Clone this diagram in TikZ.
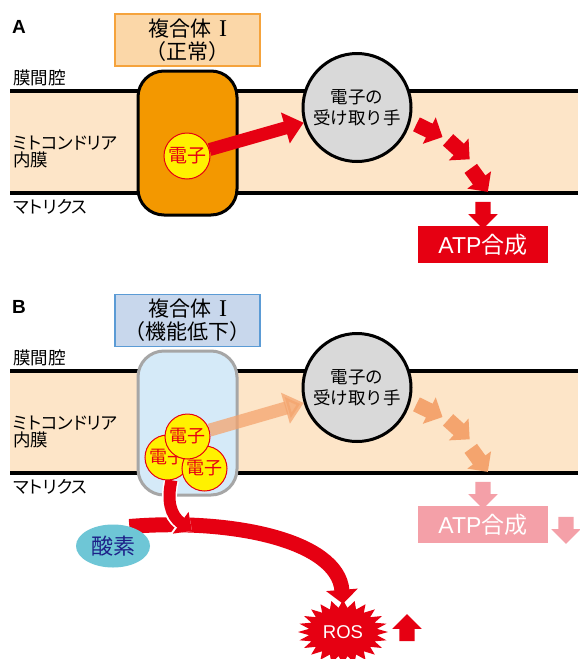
\documentclass[tikz,border=0pt]{standalone}
\usepackage{fontspec}
\setmainfont{Noto Sans CJK JP}
\newfontfamily\jpp[RawFeature=+palt]{Noto Sans CJK JP}
\newfontfamily\arial{Liberation Sans}
\newfontfamily\romannum{Liberation Serif}
\usetikzlibrary{shapes.geometric,shapes.arrows,arrows.meta,positioning}
\definecolor{memfill}{HTML}{FDE5C8}
\definecolor{cxred}{HTML}{E60012}
\definecolor{cxorange}{HTML}{F39800}
\definecolor{titleA}{HTML}{FBD7A8}
\definecolor{titleAline}{HTML}{F5A33C}
\definecolor{titleB}{HTML}{C8D7EC}
\definecolor{titleBline}{HTML}{5B9BD5}
\definecolor{cxblue}{HTML}{D5EAF8}
\definecolor{cxgrey}{HTML}{A6A6A6}
\definecolor{eyellow}{HTML}{FFF100}
\definecolor{accgrey}{HTML}{D9D9D9}
\definecolor{lightorange}{HTML}{F4A46E}
\definecolor{atppink}{HTML}{F4A0A8}
\definecolor{oxcyan}{HTML}{6EC6D6}
\definecolor{oxtext}{HTML}{1D2088}
\pgfdeclarelayer{front}
\pgfsetlayers{main,front}

\begin{document}
\begin{tikzpicture}[x=1pt,y=-1pt,
    panel/.style={font=\arial\bfseries\fontsize{19}{19}\selectfont, inner sep=0pt},
    sidelabel/.style={anchor=west, inner sep=0pt, align=left, font=\fontsize{17.5}{17}\selectfont},
    titlebox/.style={draw=#1line, fill=#1, line width=1.2pt, minimum width=145pt, minimum height=52pt,
        align=center, inner sep=0pt, font=\fontsize{21}{23}\selectfont},
    complexbox/.style={rounded corners=26pt, line width=3pt, minimum width=99pt, minimum height=144pt},
    electron/.style={circle, draw=cxred, fill=eyellow, line width=1pt, minimum size=45pt, inner sep=0pt,
        text=cxred, font=\fontsize{18}{18}\selectfont},
    acceptor/.style={circle, draw=black, fill=accgrey, line width=3pt, minimum size=108pt, align=center,
        inner sep=0pt, font=\fontsize{17.5}{21}\selectfont},
    flowline/.style={draw=#1, line width=13pt, -{Triangle[length=19pt,width=31pt]}},
    blockarrow/.style={single arrow, fill=#1, draw=none, inner xsep=0pt, inner ysep=7.5pt,
        single arrow head extend=7pt, minimum height=29pt},
    atpbox/.style={fill=#1, minimum width=130pt, minimum height=37pt, inner sep=0pt, text=white,
        font=\fontsize{23}{23}\selectfont}]
    \useasboundingbox (0,0) rectangle (580,659);
    \fill[white] (0,0) rectangle (580,659);

    % both panels: membrane, labels, acceptor, flow arrows, ATP
    \foreach \p/\dy/\flow/\atp in {A/0/cxred/cxred, B/280/lightorange/atppink} {
        \fill[memfill] (10,{91+\dy}) rectangle (578,{193+\dy});
        \draw[line width=3.5pt] (10,{91+\dy}) -- (578,{91+\dy});
        \draw[line width=3.5pt] (10,{193+\dy}) -- (578,{193+\dy});
        \node[panel] (lab\p) at (19,{27+\dy}) {\p};
        \node[sidelabel] (ims\p) at (13,{77.5+\dy}) {膜間腔};
        \node[sidelabel] (inner\p) at (13,{152+\dy}) {{\jpp ミトコンドリア}\\内膜};
        \node[sidelabel, font=\jpp\fontsize{17.5}{17}\selectfont] (mat\p) at (13,{206.5+\dy}) {マトリクス};
        \node[acceptor] (acc\p) at (357,{107.5+\dy}) {電子の\\受け取り手};
        \node[blockarrow=\flow, rotate=-26] (sa\p) at (426,{129+\dy}) {};
        \node[blockarrow=\flow, rotate=-42] (sb\p) at (456,{147+\dy}) {};
        \node[blockarrow=\flow, rotate=-54] (sc\p) at (477,{177+\dy}) {};
        \node[blockarrow=\atp, rotate=-90, minimum height=27pt] (dn\p) at (483,{211.5+\dy}) {};
        \node[atpbox=\atp] (atp\p) at (483,{244.5+\dy}) {{\arial ATP}合成};
    }

    % A: complex I (normal)
    \node[titlebox=titleA] (titA) at (187.5,40) {複合体\hspace{8pt}{\romannum\fontsize{24}{23}\selectfont I}\\（正常）};
    \node[complexbox, draw=black, fill=cxorange] (cxA) at (187.5,143) {};
    \node[electron, minimum size=46pt, font=\fontsize{19}{19}\selectfont] (eA) at (187,156) {電子};
    \draw[flowline=cxred] (eA) -- (accA);

    % B: complex I (impaired)
    \node[titlebox=titleB] (titB) at (187.5,320.5) {複合体\hspace{8pt}{\romannum\fontsize{24}{23}\selectfont I}\\（機能低下）};
    \node[complexbox, draw=cxgrey, fill=cxblue] (cxB) at (187.5,423) {};
    \begin{pgfonlayer}{front}
        \node[electron] (eB2) at (167.5,457.5) {電子};
        \node[electron] (eB3) at (204.5,468.5) {電子};
        \node[electron] (eB1) at (187.5,436.5) {電子};
        \node[ellipse, fill=oxcyan, minimum width=74pt, minimum height=43pt, inner sep=0pt,
            text=oxtext, font=\fontsize{22}{22}\selectfont] (ox) at (113,546) {酸素};
    \end{pgfonlayer}
    \draw[flowline=lightorange, opacity=.75] (eB1) -- (accB);
    \node[blockarrow=atppink, rotate=-90, minimum height=27pt] (atpdown) at (566,526.5) {};

    % ROS
    \fill[cxred, shift={(343,632)}] (0:45pt and 32pt)
        \foreach \k [evaluate=\k as \s using {mod(\k,2)==0 ? 1 : 0.76}] in {1,...,47} {
            -- (\k*7.5:\s*45pt and \s*32pt) } -- cycle;
    \node[text=white, minimum width=90pt, minimum height=56pt, inner sep=0pt,
        font=\arial\fontsize{18.5}{18.5}\selectfont] (ros) at (343,632) {ROS};
    \node[blockarrow=cxred, rotate=90, minimum height=27pt] (rosup) at (407,631.5) {};

    \draw[cxred, line width=15pt, -{Triangle[length=14pt,width=31pt]}]
        (ox.50) .. controls (230,518) and (338,540) .. (ros.north);
    \coordinate (join) at (192,531);
    \draw[cxred, line width=12pt, -{Triangle[length=14pt,width=26pt]},
        preaction={draw=white, line width=15pt, -{Triangle[length=16pt,width=30pt]}}]
        (eB2.-80) .. controls (167,500) and (170,515) .. (join);
\end{tikzpicture}
\end{document}
